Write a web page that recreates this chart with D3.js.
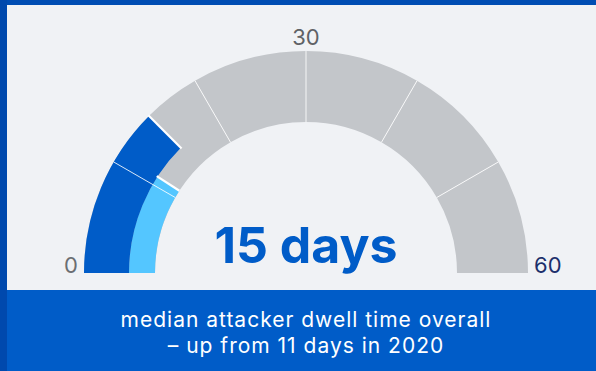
<!DOCTYPE html>
<html>
<head>
<meta charset="utf-8">
<script src="https://cdn.jsdelivr.net/npm/d3@7"></script>
<style>
  html, body { margin: 0; padding: 0; background: #f0f2f5; }
  svg { display: block; }
</style>
</head>
<body>
<svg id="chart" width="596" height="371"></svg>
<script>
// Gauge scale and values (days)
const scaleMin = 0;
const scaleMax = 60;
const segmentTicks = [0, 10, 20, 30, 40, 50, 60];
const tickLabels = [
  { value: 0, text: "0" },
  { value: 30, text: "30" },
  { value: 60, text: "60" }
];
const currentLabel = "2021";
const currentValue = 15;
const previousLabel = "2020";
const previousValue = 11;
const headline = "15 days";
const captionLines = ["median attacker dwell time overall", "– up from 11 days in 2020"];

const W = 596, H = 371;
const svg = d3.select("#chart");
const font = "Inter, 'Noto Sans', sans-serif";

// frame and background
svg.append("rect").attr("width", W).attr("height", H).attr("fill", "#f0f2f5");
svg.append("rect").attr("x", 0).attr("y", 0).attr("width", W).attr("height", 5).attr("fill", "#004db3");
svg.append("rect").attr("x", 0).attr("y", 290).attr("width", W).attr("height", H - 290).attr("fill", "#005cc8");
svg.append("rect").attr("x", 0).attr("y", 0).attr("width", 7).attr("height", H).attr("fill", "#0049ad");

// gauge geometry
const cx = 306, cy = 273;
const rInner = 151, rMid = 177, rOuter = 222;
const angle = d3.scaleLinear().domain([scaleMin, scaleMax]).range([-Math.PI / 2, Math.PI / 2]);

const g = svg.append("g").attr("transform", `translate(${cx},${cy})`);

// grey background segments
const segs = d3.pairs(segmentTicks);
g.selectAll("path.seg").data(segs).join("path")
  .attr("class", "seg")
  .attr("d", d => d3.arc()({ innerRadius: rInner, outerRadius: rOuter, startAngle: angle(d[0]), endAngle: angle(d[1]) }))
  .attr("fill", "#c3c6ca");

// previous-year value (inner ring) and current value (outer ring)
g.append("path")
  .attr("d", d3.arc()({ innerRadius: rInner, outerRadius: rMid, startAngle: angle(scaleMin), endAngle: angle(previousValue) }))
  .attr("fill", "#54c6ff");
g.append("path")
  .attr("d", d3.arc()({ innerRadius: rMid, outerRadius: rOuter, startAngle: angle(scaleMin), endAngle: angle(currentValue) }))
  .attr("fill", "#005cc8");

// thin white spokes between segments
const spoke = (v, r0, r1) => {
  const a = angle(v);
  return { x1: r0 * Math.sin(a), y1: -r0 * Math.cos(a), x2: r1 * Math.sin(a), y2: -r1 * Math.cos(a) };
};
g.selectAll("line.spoke").data(segmentTicks.slice(1, -1)).join("line")
  .attr("class", "spoke")
  .each(function (v) { const s = spoke(v, rInner, rOuter); d3.select(this).attr("x1", s.x1).attr("y1", s.y1).attr("x2", s.x2).attr("y2", s.y2); })
  .attr("stroke", "#ffffff").attr("stroke-width", 1).attr("stroke-opacity", 0.85);

// white end caps on the value arcs
[[previousValue, rInner, rMid + 1], [currentValue, rMid - 1, rOuter + 1]].forEach(([v, r0, r1]) => {
  const s = spoke(v, r0, r1);
  g.append("line").attr("x1", s.x1).attr("y1", s.y1).attr("x2", s.x2).attr("y2", s.y2)
    .attr("stroke", "#ffffff").attr("stroke-width", 2.2);
});

// scale labels
const labelColor = { 0: "#6b6e72", 30: "#5f6266", 60: "#1c2f6b" };
tickLabels.forEach(t => {
  const a = angle(t.value);
  const txt = svg.append("text")
    .attr("font-family", font).attr("font-size", 22).attr("fill", labelColor[t.value])
    .text(t.text);
  if (t.value === scaleMin) {
    txt.attr("x", cx - rOuter - 6).attr("y", cy).attr("text-anchor", "end");
  } else if (t.value === scaleMax) {
    txt.attr("x", cx + rOuter + 6).attr("y", cy).attr("text-anchor", "start");
  } else {
    txt.attr("x", cx + (rOuter + 6) * Math.sin(a)).attr("y", cy - (rOuter + 6) * Math.cos(a)).attr("text-anchor", "middle");
  }
});

// headline value
svg.append("text")
  .attr("x", cx).attr("y", 263).attr("text-anchor", "middle")
  .attr("font-family", font).attr("font-weight", 700).attr("font-size", 50)
  .attr("fill", "#005cc8")
  .text(headline);

// caption
svg.append("text")
  .attr("text-anchor", "middle").attr("font-family", font).attr("font-size", 21)
  .attr("letter-spacing", 1).attr("fill", "#ffffff")
  .selectAll("tspan").data(captionLines).join("tspan")
  .attr("x", cx).attr("y", (d, i) => 327 + i * 26)
  .text(d => d);
</script>
</body>
</html>
